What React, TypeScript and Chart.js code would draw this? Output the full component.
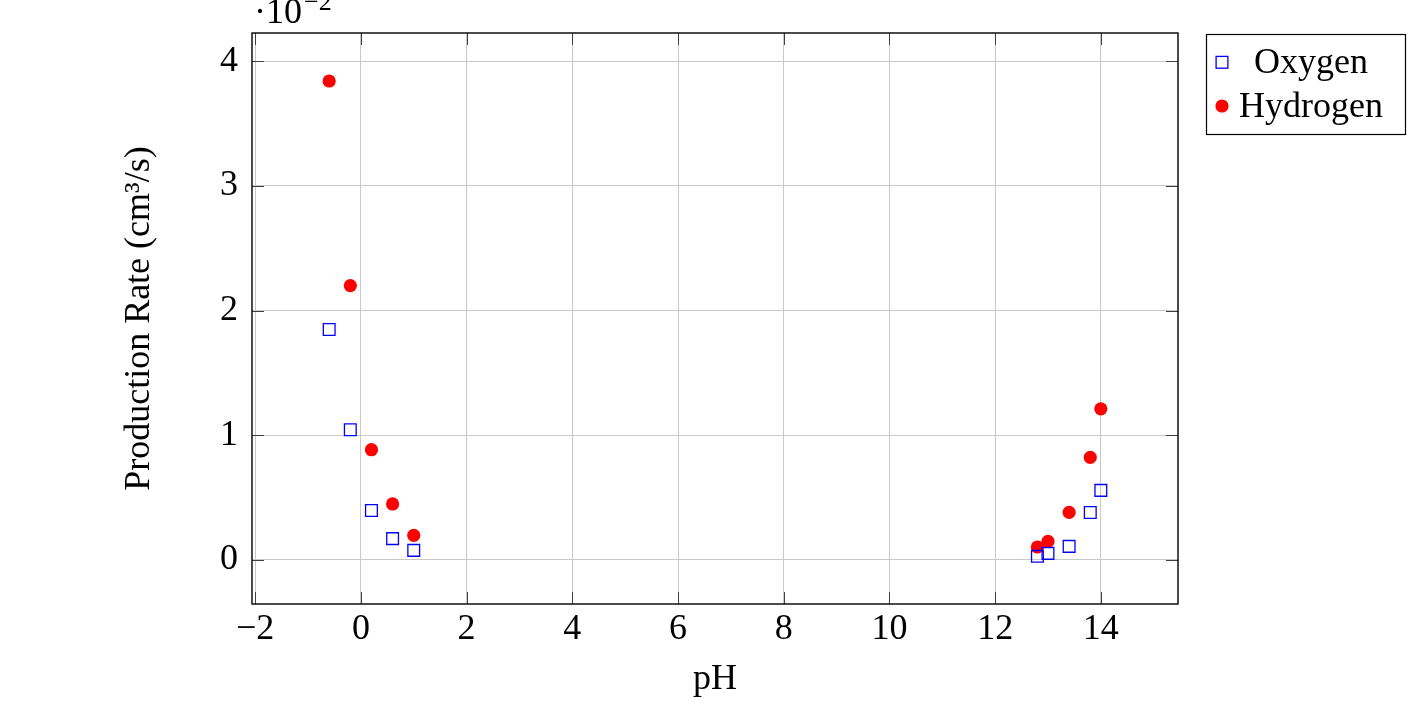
import { useEffect, useRef } from 'react';
import { Chart, registerables } from 'chart.js';

Chart.register(...registerables);

// ---- data (production rate in units of 10^-2 cm^3/s) ----
const pH = [-0.6, -0.2, 0.2, 0.6, 1.0, 12.8, 13.0, 13.4, 13.8, 14.0];
const oxygenRate = [1.848, 1.044, 0.397, 0.171, 0.077, 0.029, 0.053, 0.109, 0.381, 0.558];
const hydrogenRate = [3.84, 2.2, 0.884, 0.449, 0.197, 0.104, 0.149, 0.381, 0.822, 1.212];
const seriesNames = ['Oxygen', 'Hydrogen'];
const xTickValues = [-2, 0, 2, 4, 6, 8, 10, 12, 14];
const yTickValues = [0, 1, 2, 3, 4];
const xAxisTitle = 'pH';
const yAxisTitle = 'Production Rate (cm³/s)';
const scaleBase = '·10';
const scaleExponent = '−2';

const FONT = '"Liberation Serif", "Times New Roman", serif';
const BLUE = 'rgb(0,0,255)';
const RED = 'rgb(255,0,0)';

const framePlugin = {
  id: 'pgfFrame',
  afterDatasetsDraw(chart: any) {
    const { ctx, chartArea, scales } = chart;
    const { left, right, top, bottom } = chartArea;
    const xs = scales.x;
    const ys = scales.y;
    ctx.save();
    // inner tick marks on all four sides
    ctx.strokeStyle = '#404040';
    ctx.lineWidth = 1;
    ctx.beginPath();
    const TL = 12;
    for (const v of xTickValues) {
      const px = Math.round(xs.getPixelForValue(v)) + 0.5;
      ctx.moveTo(px, bottom);
      ctx.lineTo(px, bottom - TL);
      ctx.moveTo(px, top);
      ctx.lineTo(px, top + TL);
    }
    for (const v of yTickValues) {
      const py = Math.round(ys.getPixelForValue(v)) + 0.5;
      ctx.moveTo(left, py);
      ctx.lineTo(left + TL, py);
      ctx.moveTo(right, py);
      ctx.lineTo(right - TL, py);
    }
    ctx.stroke();
    // axis box
    ctx.strokeStyle = '#000';
    ctx.lineWidth = 1.4;
    ctx.strokeRect(left, top, right - left, bottom - top);

    // scale exponent label
    ctx.fillStyle = '#000';
    ctx.textAlign = 'left';
    ctx.textBaseline = 'alphabetic';
    ctx.font = `36px ${FONT}`;
    ctx.fillText(scaleBase, left + 2, 23);
    const w = ctx.measureText(scaleBase).width;
    ctx.font = `26px ${FONT}`;
    ctx.fillText(scaleExponent, left + 2 + w + 2, 10);

    // legend
    const lx = 1206.5, ly = 34.5, lw = 199, lh = 100;
    ctx.fillStyle = '#fff';
    ctx.fillRect(lx, ly, lw, lh);
    ctx.strokeStyle = '#000';
    ctx.lineWidth = 1.2;
    ctx.strokeRect(lx, ly, lw, lh);
    // oxygen marker
    ctx.strokeStyle = BLUE;
    ctx.lineWidth = 1.3;
    ctx.strokeRect(1222 - 5.9, 62.3 - 5.9, 11.8, 11.8);
    // hydrogen marker
    ctx.fillStyle = RED;
    ctx.beginPath();
    ctx.arc(1222, 106, 6.6, 0, Math.PI * 2);
    ctx.fill();
    ctx.fillStyle = '#000';
    ctx.font = `36px ${FONT}`;
    ctx.textAlign = 'center';
    ctx.fillText(seriesNames[0], 1311, 73);
    ctx.fillText(seriesNames[1], 1311, 117);
    ctx.restore();
  },
};

export default function App() {
  const ref = useRef<HTMLCanvasElement | null>(null);
  useEffect(() => {
    if (!ref.current) return;
    const chart = new Chart(ref.current, {
      type: 'scatter',
      data: {
        datasets: [
          {
            label: seriesNames[0],
            data: pH.map((x, i) => ({ x, y: oxygenRate[i] })),
            pointStyle: 'rect',
            pointRadius: 8.3,
            pointBorderWidth: 1.3,
            borderColor: BLUE,
            pointBorderColor: BLUE,
            backgroundColor: 'rgba(0,0,0,0)',
            pointBackgroundColor: 'rgba(0,0,0,0)',
          },
          {
            label: seriesNames[1],
            data: pH.map((x, i) => ({ x, y: hydrogenRate[i] })),
            pointStyle: 'circle',
            pointRadius: 6.6,
            pointBorderWidth: 0,
            borderColor: RED,
            pointBorderColor: RED,
            backgroundColor: RED,
            pointBackgroundColor: RED,
          },
        ],
      },
      options: {
        animation: false,
        responsive: false,
        maintainAspectRatio: false,
        events: [],
        layout: { padding: { left: 0, right: 246, top: 33, bottom: 0 } },
        plugins: {
          legend: { display: false },
          tooltip: { enabled: false },
        },
        scales: {
          x: {
            type: 'linear',
            min: -2.06,
            max: 15.46,
            afterBuildTicks: (s: any) => {
              s.ticks = xTickValues.map((v) => ({ value: v }));
            },
            afterFit: (s: any) => {
              s.height = 109;
              s.paddingLeft = 0;
              s.paddingRight = 0;
            },
            grid: { color: '#c8c8c8', lineWidth: 1, drawTicks: false },
            border: { display: false },
            ticks: {
              padding: 4,
              color: '#000',
              font: { family: FONT, size: 36, lineHeight: 1.2 },
              callback: (v: any) => (Number(v) < 0 ? '−' + Math.abs(Number(v)) : String(v)),
            },
            title: {
              display: true,
              text: xAxisTitle,
              color: '#000',
              font: { family: FONT, size: 36, lineHeight: 1.2 },
              padding: { top: 0, bottom: 12 },
            },
          },
          y: {
            type: 'linear',
            min: -0.353,
            max: 4.225,
            afterBuildTicks: (s: any) => {
              s.ticks = yTickValues.map((v) => ({ value: v }));
            },
            afterFit: (s: any) => {
              s.width = 252;
              s.paddingTop = 0;
              s.paddingBottom = 0;
            },
            grid: { color: '#c8c8c8', lineWidth: 1, drawTicks: false },
            border: { display: false },
            ticks: {
              padding: 14,
              color: '#000',
              font: { family: FONT, size: 36, lineHeight: 1.2 },
              callback: (v: any) => String(v),
            },
            title: {
              display: true,
              text: yAxisTitle,
              color: '#000',
              font: { family: FONT, size: 36, lineHeight: 1.2 },
              padding: { top: 118, bottom: 0 },
            },
          },
        },
      },
      plugins: [framePlugin],
    });
    return () => chart.destroy();
  }, []);
  return (
    <div style={{ position: 'fixed', left: 0, top: 0, width: 1424, height: 713, background: '#fff' }}>
      <canvas ref={ref} width={1424} height={713} style={{ display: 'block' }} />
    </div>
  );
}
